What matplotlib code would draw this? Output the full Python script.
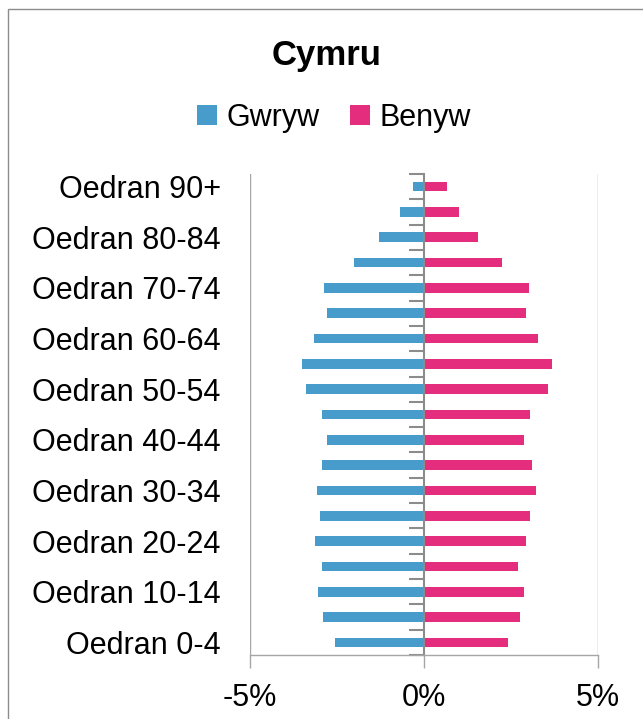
import matplotlib.pyplot as plt
import numpy as np
from matplotlib.patches import Rectangle

plt.rcParams['font.family'] = ['Liberation Sans', 'DejaVu Sans']

# age bands, youngest first
ages = ['0-4', '5-9', '10-14', '15-19', '20-24', '25-29', '30-34', '35-39',
        '40-44', '45-49', '50-54', '55-59', '60-64', '65-69', '70-74',
        '75-79', '80-84', '85-89', '90+']
labels = ['Oedran ' + a for a in ages]

# share of population, percent
male = [2.57, 2.89, 3.05, 2.93, 3.12, 2.98, 3.08, 2.93, 2.79, 2.93,
        3.38, 3.52, 3.15, 2.79, 2.86, 2.01, 1.28, 0.68, 0.31]
female = [2.41, 2.75, 2.87, 2.71, 2.93, 3.05, 3.23, 3.09, 2.87, 3.05,
          3.56, 3.67, 3.27, 2.93, 3.01, 2.23, 1.56, 1.01, 0.65]

xticks = [-5, 0, 5]
xticklabels = ['-5%', '0%', '5%']

blue = '#479CCB'
pink = '#E52D7E'
grey = '#A6A6A6'

W, H = 643, 719
fig = plt.figure(figsize=(W / 100, H / 100), dpi=100)
ax = fig.add_axes([250 / W, 1 - 655 / H, 348 / W, 481 / H])

y = np.arange(len(ages))
ax.barh(y, -np.array(male), height=0.38, color=blue, label='Gwryw')
ax.barh(y, female, height=0.38, color=pink, label='Benyw')

ax.set_xlim(-5, 5)
ax.set_ylim(-0.5, len(ages) - 0.5)

# vertical axis sits on zero with ticks between the bands
ax.spines['left'].set_position(('data', 0))
ax.spines['left'].set_color('#8C8C8C')
ax.spines['left'].set_linewidth(1.5)
ax.set_yticks(np.arange(-0.5, len(ages), 1))
ax.set_yticklabels([])
ax.tick_params(axis='y', length=11, width=1.5, color='#8C8C8C', direction='out')

# band labels at the outer left
lab = ax.secondary_yaxis('left')
lab.set_yticks(y[::2], labels[::2])
lab.spines['left'].set_visible(False)
lab.tick_params(axis='y', length=0, pad=21, labelsize=22)

for s in ['top', 'right']:
    ax.spines[s].set_visible(False)
ax.spines['bottom'].set_color(grey)
ax.spines['bottom'].set_linewidth(1)
ax.set_xticks(xticks, xticklabels)
ax.tick_params(axis='x', length=9, width=1, color=grey, pad=11, labelsize=22)
for v in [-5, 5]:
    ax.axvline(v, color=grey, lw=1, zorder=0)

fig.text(327 / W, 1 - 55 / H, 'Cymru', ha='center', va='center',
         fontsize=25, fontweight='bold')
fig.legend(loc='center', bbox_to_anchor=(334 / W, 1 - 118 / H), ncol=2,
           frameon=False, fontsize=22, handlelength=0.65, handleheight=0.65,
           handletextpad=0.3, columnspacing=1.0)

fig.patches.append(Rectangle((8 / W, -0.1), 1.2, 1.1 - 9.5 / H,
                             transform=fig.transFigure, fill=False,
                             edgecolor='#8C8C8C', lw=1))

fig.savefig('out.png', dpi=100)
